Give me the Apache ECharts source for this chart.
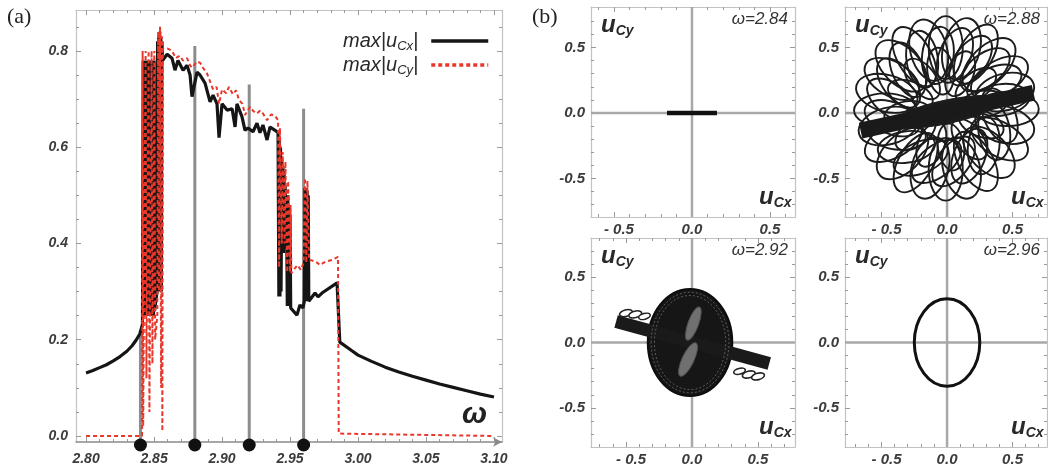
<!DOCTYPE html>
<html><head><meta charset="utf-8">
<script src="https://cdn.jsdelivr.net/npm/echarts@6/dist/echarts.min.js"></script>
<style>html,body{margin:0;padding:0;background:#fff}#c{width:1048px;height:471px}</style>
</head><body><div id="c"></div>
<script>
// ---------- DATA ----------
const omegaTicks = [2.80,2.85,2.90,2.95,3.00,3.05,3.10];
const omegaMinor = [2.80,2.81,2.82,2.83,2.84,2.85,2.86,2.87,2.88,2.89,2.90,2.91,2.92,2.93,2.94,2.95,2.96,2.97,2.98,2.99,3.00,3.01,3.02,3.03,3.04,3.05,3.06,3.07,3.08,3.09,3.10];
const ampTicks = [0,0.2,0.4,0.6,0.8];
const ampMinor = [0,0.05,0.10,0.15,0.20,0.25,0.30,0.35,0.40,0.45,0.50,0.55,0.60,0.65,0.70,0.75,0.80,0.85];
const uTicks = [-0.5,0,0.5];
const uMinor = [-0.7,-0.6,-0.5,-0.4,-0.3,-0.2,-0.1,0,0.1,0.2,0.3,0.4,0.5,0.6,0.7];

// max|u_Cx| (black)
const uCx = [
[2.800,0.131],[2.805,0.136],[2.810,0.142],[2.815,0.148],[2.820,0.156],[2.825,0.165],[2.830,0.176],[2.834,0.188],[2.837,0.200],[2.8395,0.212],[2.8415,0.232],
[2.8420,0.78],[2.8424,0.25],[2.8428,0.78],[2.8432,0.25],[2.8436,0.78],[2.8440,0.25],[2.8444,0.78],[2.8448,0.25],[2.8452,0.78],[2.8456,0.25],[2.8460,0.78],[2.8464,0.25],[2.8468,0.78],[2.8472,0.25],[2.8476,0.78],[2.8480,0.25],[2.8484,0.78],[2.8488,0.25],[2.8492,0.78],[2.8496,0.25],[2.8500,0.78],[2.8504,0.26],
[2.8522,0.30],[2.8526,0.82],[2.8530,0.30],[2.8534,0.83],[2.8538,0.30],[2.8542,0.84],[2.8546,0.30],[2.8550,0.83],[2.8554,0.30],[2.8558,0.82],[2.8562,0.78],
[2.8566,0.780],[2.8596,0.793],[2.8632,0.785],[2.8654,0.760],[2.8676,0.780],[2.8713,0.760],[2.8743,0.770],[2.8765,0.750],[2.8779,0.705],[2.8816,0.756],[2.8838,0.750],[2.8875,0.733],[2.8912,0.694],[2.8934,0.708],[2.8963,0.690],[2.8978,0.620],[2.9000,0.690],[2.9037,0.677],[2.9074,0.680],[2.9096,0.642],[2.9110,0.690],[2.9147,0.663],[2.9169,0.635],[2.9191,0.640],[2.9228,0.632],[2.9257,0.650],[2.9279,0.630],[2.9301,0.646],[2.9331,0.615],[2.9353,0.642],[2.9390,0.635],[2.9412,0.630],
[2.9418,0.29],[2.9422,0.62],[2.9426,0.29],[2.9430,0.60],[2.9434,0.30],
[2.9440,0.57],[2.9444,0.38],[2.9448,0.56],[2.9452,0.38],[2.9456,0.55],[2.9460,0.39],[2.9464,0.52],[2.9468,0.40],[2.9472,0.50],[2.9476,0.42],
[2.9480,0.27],[2.9484,0.50],[2.9488,0.27],[2.9492,0.48],[2.9496,0.27],[2.9500,0.46],[2.9505,0.266],
[2.9515,0.262],[2.9551,0.251],[2.9573,0.272],[2.9595,0.266],[2.9605,0.28],
[2.9610,0.515],[2.9614,0.28],[2.9618,0.515],[2.9622,0.28],[2.9626,0.51],[2.9630,0.28],[2.9634,0.50],[2.9638,0.28],
[2.9647,0.276],[2.9684,0.297],[2.9706,0.289],[2.9735,0.297],[2.9846,0.318],[2.9866,0.195],
[2.995,0.178],[3.000,0.168],[3.010,0.155],[3.020,0.143],[3.030,0.133],[3.040,0.124],[3.050,0.116],[3.060,0.108],[3.070,0.101],[3.080,0.094],[3.090,0.087],[3.100,0.081]
];

// max|u_Cy| (red dashed)
const uCy = [
[2.800,0.0],[2.8412,0.0],
[2.8416,0.80],[2.8420,0.02],[2.8438,0.80],[2.8444,0.12],[2.8460,0.80],[2.8466,0.05],[2.8482,0.80],[2.8488,0.15],[2.8502,0.80],[2.8508,0.20],
[2.8524,0.25],[2.8530,0.84],[2.8536,0.30],[2.8544,0.85],[2.8552,0.10],[2.8558,0.83],[2.8561,0.01],[2.8565,0.805],
[2.8600,0.805],[2.8632,0.800],[2.8660,0.785],[2.8690,0.790],[2.8713,0.780],[2.8743,0.785],[2.8765,0.770],[2.8779,0.765],[2.8816,0.778],[2.8840,0.775],[2.8860,0.765],[2.8890,0.753],[2.8934,0.720],[2.8960,0.725],[2.8978,0.690],[2.9000,0.720],[2.9030,0.712],[2.9051,0.725],[2.9080,0.710],[2.9103,0.718],[2.9125,0.698],[2.9150,0.690],[2.9169,0.667],[2.9206,0.684],[2.9230,0.675],[2.9257,0.670],[2.9280,0.676],[2.9301,0.670],[2.9331,0.656],[2.9360,0.668],[2.9390,0.665],[2.9412,0.656],
[2.9420,0.35],[2.9426,0.64],[2.9440,0.40],[2.9446,0.59],[2.9460,0.40],[2.9466,0.57],[2.9480,0.34],[2.9486,0.53],[2.9500,0.34],[2.9504,0.48],[2.9510,0.338],
[2.9520,0.338],[2.9540,0.350],[2.9555,0.355],[2.9580,0.345],[2.9600,0.36],
[2.9610,0.536],[2.9620,0.36],[2.9628,0.53],[2.9640,0.365],
[2.9660,0.365],[2.9700,0.360],[2.9720,0.355],[2.9760,0.362],[2.9800,0.365],[2.9853,0.372],[2.9858,0.005],[3.100,0.0]
];

// marked frequencies (a) and the panels (b)
const markerOmega = [2.84, 2.88, 2.92, 2.96];
const markerAmp = [0.22, 0.81, 0.73, 0.68];
const panelOmega = ['2.84','2.88','2.92','2.96'];

// orbits: ellipse loops are [centre x, centre y, semi-axis a, semi-axis b, tilt deg]
const orbit284 = [[-0.16,0],[0.16,0]];
const orbit288Loops = [
[0.46,0.03,0.24,0.13,0],[0.44,0.16,0.23,0.14,15],[0.40,0.27,0.24,0.13,30],[0.32,0.37,0.25,0.14,45],
[0.22,0.45,0.25,0.13,60],[0.11,0.49,0.24,0.14,75],[-0.01,0.50,0.24,0.13,90],[-0.14,0.48,0.24,0.14,105],
[-0.25,0.43,0.25,0.13,120],[-0.35,0.36,0.24,0.14,135],[-0.42,0.26,0.23,0.13,150],[-0.46,0.15,0.24,0.14,165],
[-0.47,0.02,0.24,0.13,180],[-0.45,-0.10,0.23,0.14,195],[-0.41,-0.21,0.24,0.13,210],[-0.34,-0.31,0.24,0.14,225],
[-0.24,-0.38,0.25,0.13,240],[-0.13,-0.42,0.24,0.14,255],[-0.01,-0.43,0.24,0.13,270],[0.11,-0.42,0.24,0.14,285],
[0.22,-0.37,0.25,0.13,300],[0.32,-0.30,0.24,0.14,315],[0.40,-0.20,0.24,0.13,330],[0.44,-0.09,0.23,0.14,345],
[0.41,0.10,0.22,0.12,8],[0.36,0.23,0.22,0.12,23],[0.29,0.33,0.22,0.12,38],[0.18,0.40,0.22,0.12,53],
[0.06,0.44,0.22,0.12,68],[-0.07,0.44,0.22,0.12,83],[-0.19,0.41,0.22,0.12,98],[-0.30,0.33,0.22,0.12,113],
[-0.37,0.23,0.22,0.12,128],[-0.42,0.10,0.22,0.12,143],[-0.42,-0.04,0.22,0.12,158],[-0.38,-0.16,0.22,0.12,173],
[-0.31,-0.26,0.22,0.12,188],[-0.20,-0.34,0.22,0.12,203],[-0.08,-0.37,0.22,0.12,218],[0.05,-0.37,0.22,0.12,233],
[0.17,-0.33,0.22,0.12,248],[0.28,-0.25,0.22,0.12,263],[0.36,-0.14,0.22,0.12,278],[0.40,-0.02,0.22,0.12,293],
[0.28,0.07,0.18,0.10,8],[0.22,0.21,0.18,0.10,38],[0.10,0.30,0.18,0.10,68],[-0.05,0.32,0.18,0.10,98],
[-0.19,0.26,0.18,0.10,128],[-0.28,0.14,0.18,0.10,158],[-0.30,-0.01,0.18,0.10,188],[-0.24,-0.15,0.18,0.10,218],
[-0.12,-0.24,0.18,0.10,248],[0.03,-0.26,0.18,0.10,278],[0.17,-0.20,0.18,0.10,308],[0.26,-0.08,0.18,0.10,338]
];
const orbit288Core = [[0,0.01,0.42,0.09,12]];
const orbit288Band = [[-0.66,-0.135],[0.66,0.155]];
const orbit292Disk = [[-0.015,0,0.32,0.41,0]];
const orbit292Rings = [[-0.015,0,0.295,0.385,0],[-0.015,0,0.27,0.36,0]];
const orbit292Lenses = [[0.01,0.145,0.135,0.04,70],[-0.03,-0.13,0.14,0.045,65]];
const orbit292Band = [[-0.575,0.16],[0.585,-0.16]];
const orbit292Loops = [
[-0.50,0.225,0.05,0.025,15],[-0.43,0.215,0.05,0.025,15],[-0.36,0.20,0.045,0.022,15],
[0.36,-0.22,0.045,0.022,15],[0.43,-0.245,0.05,0.025,15],[0.50,-0.26,0.05,0.025,15]
];
const orbit296 = [[0,0,0.25,0.335,0]];

// ---------- LAYOUT ----------
const gridA = {left:76, top:10, width:426, height:432};
const panels = [
  {left:591, top:7, width:204, height:210, x:[-0.647,0.66], y:[-0.795,0.81]},
  {left:845, top:7, width:202, height:210, x:[-0.779,0.763], y:[-0.795,0.81]},
  {left:591, top:238, width:204, height:209, x:[-0.765,0.78], y:[-0.8,0.8]},
  {left:845, top:238, width:202, height:209, x:[-0.779,0.763], y:[-0.8,0.8]}
];
const omegaRange = [2.7926, 3.1059];
const ampRange = [-0.0125, 0.885];

const FONT = '"Liberation Sans", Arial, sans-serif';
const labelBase = {fontFamily: FONT, fontWeight:'bold', fontStyle:'italic', color:'#3c3c3c'};
const frameColor = '#c2c2c2', tickColor = '#9a9a9a';

function sideAxes(g, range, major, minor, sides, labelCfg, mainLine) {
  const inR = arr => arr.filter(v => v >= range[0] - 1e-9 && v <= range[1] + 1e-9);
  const base = (pos) => ({type:'value', gridIndex:g, min:range[0], max:range[1], position:pos, splitLine:{show:false}});
  const out = [];
  sides.forEach((pos, k) => {
    const a = base(pos);
    a.axisLine = Object.assign({show:true, onZero:false, lineStyle:{color:frameColor, width:1.2}}, (k===0 && mainLine) ? mainLine : {});
    a.axisTick = {show:true, inside:true, length:5, customValues: inR(major), lineStyle:{color:tickColor, width:1}};
    a.axisLabel = (k===0 && labelCfg) ? Object.assign({show:true, customValues: inR(major)}, labelCfg) : {show:false};
    out.push(a);
    const m = base(pos);
    m.axisLine = {show:false, onZero:false};
    m.axisTick = {show:true, inside:true, length:3, customValues: inR(minor), lineStyle:{color:tickColor, width:1}};
    m.axisLabel = {show:false};
    out.push(m);
  });
  return out;
}

const grids = [gridA].concat(panels).map(p => ({left:p.left, top:p.top, width:p.width, height:p.height, containLabel:false}));
let xAxes = [], yAxes = [];
xAxes = xAxes.concat(sideAxes(0, omegaRange, omegaTicks, omegaMinor, ['bottom','top'],
  Object.assign({fontSize:14, margin:10, formatter: v => v.toFixed(2)}, labelBase),
  {lineStyle:{color:'#8a8a8a', width:1.5}, symbol:['none','arrow'], symbolSize:[7,9]}));
yAxes = yAxes.concat(sideAxes(0, ampRange, ampTicks, ampMinor, ['left','right'],
  Object.assign({fontSize:14, margin:8, formatter: v => v.toFixed(1)}, labelBase), null));
panels.forEach((p, i) => {
  xAxes = xAxes.concat(sideAxes(i+1, p.x, uTicks, uMinor, ['bottom','top'],
    Object.assign({fontSize:15, margin:5, formatter: v => v < 0 ? '{n|- ' + Math.abs(v).toFixed(1) + '}' : v.toFixed(1),
      rich:{n:Object.assign({fontSize:15, padding:[0,0,0,10]}, labelBase)}}, labelBase), null));
  yAxes = yAxes.concat(sideAxes(i+1, p.y, uTicks, uMinor, ['left','right'],
    Object.assign({fontSize:15, margin:6, formatter: v => v.toFixed(1)}, labelBase), null));
});

function ellipseRenderer(style) {
  return function (params, api) {
    const c = api.coord([api.value(0), api.value(1)]);
    const k = api.size([1, 1]);
    const ang = api.value(4) * Math.PI / 180;
    const cs = Math.cos(ang), sn = Math.sin(ang);
    const rx = api.value(2) * Math.hypot(k[0]*cs, k[1]*sn);
    const ry = api.value(3) * Math.hypot(k[0]*sn, k[1]*cs);
    return {type:'ellipse', x:c[0], y:c[1], rotation: Math.atan2(k[1]*sn, k[0]*cs),
      shape:{cx:0, cy:0, rx:rx, ry:ry}, style:Object.assign({}, style)};
  };
}
function zeroLines(g) {
  return {type:'custom', xAxisIndex:4*g, yAxisIndex:4*g, z:1, silent:true, data:[[0,0]],
    renderItem:(params, api) => {
      const cs = params.coordSys, o = api.coord([0,0]);
      return {type:'group', children:[
        {type:'line', shape:{x1:cs.x, y1:o[1], x2:cs.x+cs.width, y2:o[1]}, style:{stroke:'#a8a8a8', lineWidth:2.5}},
        {type:'line', shape:{x1:o[0], y1:cs.y, x2:o[0], y2:cs.y+cs.height}, style:{stroke:'#a8a8a8', lineWidth:2.5}}
      ]};
    }};
}
function ellSeries(g, data, style, z) {
  return {type:'custom', xAxisIndex:4*g, yAxisIndex:4*g, z:z||3, silent:true, clip:false,
    encode:{x:0, y:1}, data:data, renderItem: ellipseRenderer(style)};
}

const series = [
  {type:'custom', name:'markers', xAxisIndex:0, yAxisIndex:0, z:2, silent:true, clip:false,
    data: markerOmega.map((w,i) => [w, markerAmp[i]]),
    renderItem:(params, api) => {
      const t = api.coord([api.value(0), api.value(1)]);
      const b = api.coord([api.value(0), ampRange[0]]);
      return {type:'line', shape:{x1:t[0], y1:b[1]+3, x2:t[0], y2:t[1]}, style:{stroke:'#8c8c8c', lineWidth:3}};
    }},
  {type:'line', name:'uCx', xAxisIndex:0, yAxisIndex:0, data:uCx, symbol:'none', showSymbol:false, z:3,
    lineStyle:{color:'#151515', width:3.2}, itemStyle:{color:'#151515'}},
  {type:'line', name:'uCy', xAxisIndex:0, yAxisIndex:0, data:uCy, symbol:'none', showSymbol:false, z:4,
    lineStyle:{color:'#e8382c', width:2, type:[4,3]}, itemStyle:{color:'#e8382c'}},
  {type:'custom', name:'dots', xAxisIndex:0, yAxisIndex:0, z:6, silent:true, clip:false,
    data: markerOmega.map((w,i) => [w, markerAmp[i]]),
    renderItem:(params, api) => {
      const b = api.coord([api.value(0), ampRange[0]]);
      return {type:'circle', shape:{cx:b[0], cy:b[1]+3, r:6.5}, style:{fill:'#111'}};
    }},
  zeroLines(1), zeroLines(2), zeroLines(3), zeroLines(4),
  {type:'line', xAxisIndex:4, yAxisIndex:4, data:orbit284, symbol:'none', z:3, silent:true,
    lineStyle:{color:'#111', width:4.5}},
  ellSeries(2, orbit288Loops, {fill:'none', stroke:'#1c1c1c', lineWidth:1.9}),
  ellSeries(2, orbit288Core, {fill:'#1c1c1c', stroke:'#1c1c1c', lineWidth:1}, 4),
  {type:'line', xAxisIndex:8, yAxisIndex:8, data:orbit288Band, symbol:'none', z:4, silent:true,
    lineStyle:{color:'#1a1a1a', width:16}},
  ellSeries(3, orbit292Disk, {fill:'#161616', stroke:'#0d0d0d', lineWidth:2}, 3),
  {type:'line', xAxisIndex:12, yAxisIndex:12, data:orbit292Band, symbol:'none', z:4, silent:true,
    lineStyle:{color:'#1a1a1a', width:13}},
  ellSeries(3, orbit292Rings, {fill:'none', stroke:'#5a5a5a', lineWidth:1, lineDash:[2,2]}, 5),
  ellSeries(3, orbit292Lenses, {fill:'#707070', stroke:'#505050', lineWidth:1}, 5),
  ellSeries(3, orbit292Loops, {fill:'#ffffff', stroke:'#222', lineWidth:1.6}, 5),
  ellSeries(4, orbit296, {fill:'none', stroke:'#111', lineWidth:3}, 3)
];

const uRich = {
  u:{fontFamily:FONT, fontWeight:'bold', fontStyle:'italic', fontSize:24, lineHeight:26, verticalAlign:'middle', fill:'#2a2a2a'},
  s:{fontFamily:FONT, fontWeight:'bold', fontStyle:'italic', fontSize:14, lineHeight:14, verticalAlign:'bottom', fill:'#2a2a2a'}
};
const graphic = [
  {type:'text', x:7, y:6, style:{text:'(a)', font:'22px "Liberation Serif", serif', fill:'#222'}},
  {type:'text', x:532, y:6, style:{text:'(b)', font:'22px "Liberation Serif", serif', fill:'#222'}},
  {type:'text', x:462, y:400, style:{text:'\u03c9', font:'bold italic 30px "Liberation Sans", sans-serif', fill:'#222'}}
];
panels.forEach((p, i) => {
  graphic.push({type:'text', x:p.left+10, y:p.top+5, z:20, style:{text:'{u|u}{s|Cy}', rich:uRich}});
  graphic.push({type:'text', x:p.left+p.width-36, y:p.top+p.height-33, z:20, style:{text:'{u|u}{s|Cx}', rich:uRich}});
  graphic.push({type:'text', x:p.left+p.width-7, y:p.top+4, z:20,
    style:{text:'\u03c9=' + panelOmega[i], align:'right', font:'italic 17px "Liberation Sans", sans-serif', fill:'#333'}});
});

const chart = echarts.init(document.getElementById('c'), null, {renderer:'canvas'});
chart.setOption({
  animation:false,
  backgroundColor:'#fff',
  grid: grids,
  xAxis: xAxes,
  yAxis: yAxes,
  legend: {
    data:['uCx','uCy'], orient:'vertical', right:553, top:26, align:'right',
    itemWidth:57, itemHeight:14, itemGap:2, selectedMode:false,
    itemStyle:{opacity:0}, lineStyle:{width:3.5},
    formatter: n => n === 'uCx' ? '{t|max|u}{s|Cx}{e||}' : '{t|max|u}{s|Cy}{e||}',
    textStyle:{rich:{
      t:{fontFamily:FONT, fontStyle:'italic', fontSize:20, lineHeight:24, verticalAlign:'middle', color:'#2a2a2a'},
      s:{fontFamily:FONT, fontStyle:'italic', fontSize:13, lineHeight:13, verticalAlign:'bottom', color:'#2a2a2a'},
      e:{fontFamily:FONT, fontStyle:'italic', fontSize:20, lineHeight:24, verticalAlign:'middle', color:'#2a2a2a', padding:[0,8,0,0]}
    }}
  },
  graphic: graphic,
  series: series
});
</script></body></html>
